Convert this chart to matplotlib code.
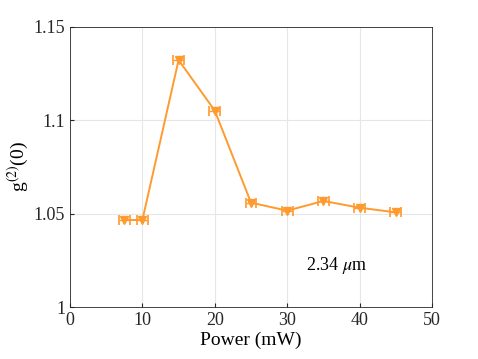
import numpy as np
import matplotlib
matplotlib.use("Agg")
import matplotlib.pyplot as plt

plt.rcParams['font.family'] = ['Liberation Serif', 'DejaVu Serif']
plt.rcParams['mathtext.fontset'] = 'stix'

# data
power = [7.5, 10, 15, 20, 25, 30, 35, 40, 45]
g2 = [1.0466, 1.0466, 1.1323, 1.1052, 1.0559, 1.0516, 1.0568, 1.0532, 1.0507]
power_err = [0.75] * len(power)

orange = '#ff9a2e'

fig = plt.figure(figsize=(4.78, 3.59), dpi=100)
ax = fig.add_axes([0.1464, 0.1448, 0.7574, 0.78])

ax.errorbar(power, g2, xerr=power_err, color=orange, ecolor=orange,
            marker='v', markersize=6, markerfacecolor=orange, markeredgecolor=orange,
            linewidth=1.4, elinewidth=1.0, capsize=3.6, capthick=1.2)

ax.set_xlim(0, 50)
ax.set_ylim(1, 1.15)
ax.set_xticks([0, 10, 20, 30, 40, 50])
ax.set_yticks([1, 1.05, 1.1, 1.15])
ax.set_yticklabels(['1', '1.05', '1.1', '1.15'])
ax.grid(True, color='#e6e6e6', linewidth=0.8)
ax.set_axisbelow(True)
ax.tick_params(direction='in', labelsize=13, colors='#262626', length=3)
for sp in ax.spines.values():
    sp.set_color('#262626')
    sp.set_linewidth(0.6)

ax.set_xlabel('Power (mW)', fontsize=14, labelpad=2)
ax.set_ylabel(r'g$^{(2)}$(0)', fontsize=14, labelpad=2)
ax.text(36.8, 1.0225, r'2.34 $\mu$m', fontsize=13, ha='center', va='center')

fig.savefig('out.png', dpi=100)
